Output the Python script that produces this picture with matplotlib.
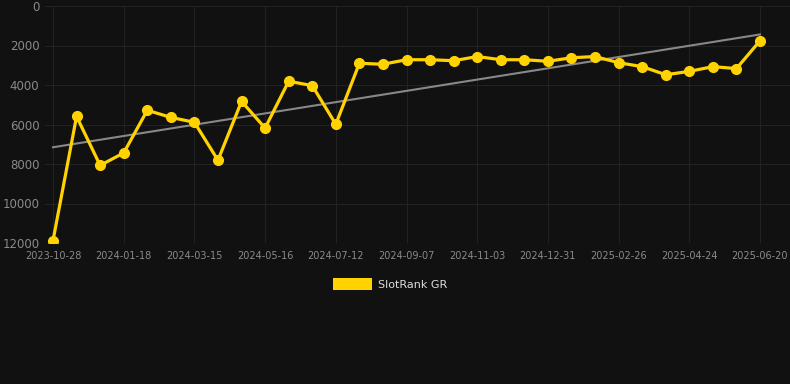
import numpy as np
import matplotlib
matplotlib.use("Agg")
import matplotlib.pyplot as plt
from matplotlib.patches import Patch

# rank values, one point per ~19 days (lower is better, axis inverted)
ranks = [11880, 5590, 8070, 7440, 5280, 5640, 5890, 7810, 4830, 6180,
         3810, 4030, 5990, 2900, 2950, 2720, 2720, 2770, 2560, 2720,
         2720, 2800, 2620, 2560, 2870, 3070, 3480, 3310, 3070, 3170,
         1760]
tick_labels = ["2023-10-28", "2024-01-18", "2024-03-15", "2024-05-16",
               "2024-07-12", "2024-09-07", "2024-11-03", "2024-12-31",
               "2025-02-26", "2025-04-24", "2025-06-20"]
y_ticks = [0, 2000, 4000, 6000, 8000, 10000, 12000]
series_name = "SlotRank GR"

bg = "#111111"
gold = "#FFD200"
W, H = 790, 384

fig = plt.figure(figsize=(W / 100, H / 100), dpi=100, facecolor=bg)
# axes box in pixels: left 45, right 790, top 6, bottom 243
ax = fig.add_axes([45 / W, 1 - 243 / H, (790 - 45) / W, (243 - 6) / H])
ax.set_facecolor(bg)

x = np.arange(len(ranks))
ax.plot(x, ranks, color=gold, lw=2.3, marker="o", ms=7, zorder=3)

# linear trend
k, b = np.polyfit(x, ranks, 1)
ax.plot([x[0], x[-1]], [k * x[0] + b, k * x[-1] + b], color="#888888", lw=1.5, zorder=2)

px = (760 - 53) / 30
ax.set_xlim(-(53 - 45) / px, 30 + (790 - 760) / px)
ax.set_ylim(12000, 0)

ax.set_xticks(x[::3])
ax.set_xticklabels(tick_labels)
ax.set_yticks(y_ticks)
ax.set_yticklabels([str(v) for v in y_ticks])
ax.tick_params(axis="x", colors="#888888", labelsize=7, length=0, pad=6)
ax.tick_params(axis="y", colors="#888888", labelsize=8.5, length=0, pad=4)
for lab in ax.get_yticklabels() + ax.get_xticklabels():
    lab.set_color("#8a8a8a")
ax.grid(True, color="#222222", lw=0.8)
for s in ax.spines.values():
    s.set_visible(False)

leg = fig.legend(handles=[Patch(facecolor=gold, label=series_name)],
                 loc="center", bbox_to_anchor=(390 / W, 1 - 284 / H),
                 frameon=False, fontsize=8, handlelength=3.5, handleheight=1.2,
                 handletextpad=0.5, labelcolor="#dddddd")

fig.savefig("out.png", dpi=100, facecolor=bg)
